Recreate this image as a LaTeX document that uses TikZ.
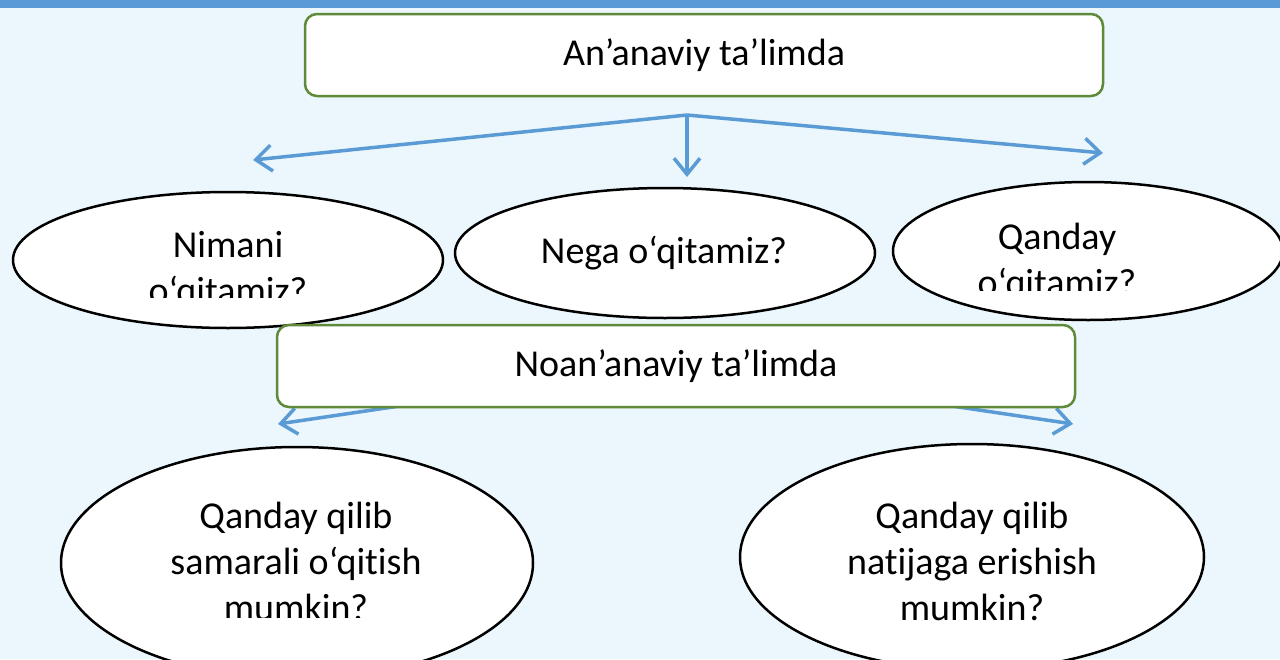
\documentclass[tikz,border=0pt]{standalone}
\usepackage{fontspec}
\setmainfont{Carlito}[Ligatures=NoCommon]
\usetikzlibrary{arrows.meta,shapes.geometric}
\definecolor{bgblue}{RGB}{235,247,252}
\definecolor{barblue}{RGB}{91,155,213}
\definecolor{boxgreen}{RGB}{94,138,58}
\begin{document}
\begin{tikzpicture}[x=1pt,y=-1pt,
  headbox/.style={draw=boxgreen, line width=2.5pt, rounded corners=12pt, fill=white,
    minimum width=798pt, minimum height=82pt, inner sep=0pt,
    font=\fontsize{38}{46}\selectfont},
  oval/.style={draw=black, line width=2.5pt, ellipse, fill=white, inner sep=0pt},
  lbl/.style={font=\fontsize{38}{46}\selectfont, align=center, inner sep=0pt, anchor=base},
  conn/.style={draw=barblue, line width=3.5pt, -{Straight Barb[length=16pt,width=26pt]}}]
\clip (0,0) rectangle (1280,659);
\fill[bgblue] (0,0) rectangle (1280,659);
\fill[barblue] (0,0) rectangle (1280,8);
% top connectors
\coordinate (s1) at (687,115);
\coordinate (t1) at (253,160);
\coordinate (t2) at (687,177);
\coordinate (t3) at (1103,153);
\draw[conn] (s1) -- (t1);
\draw[conn] (s1) -- (t2);
\draw[conn] (s1) -- (t3);
\node[headbox] (top) at (704,55) {An’anaviy ta’limda};
% top ellipses
\node[oval, minimum width=430pt, minimum height=136pt] (e1) at (228,260) {};
\node[oval, minimum width=420pt, minimum height=130pt] (e2) at (665,253) {};
\node[oval, minimum width=390pt, minimum height=138pt] (e3) at (1088,251) {};
\begin{scope}
\clip (0,0) rectangle (1280,297);
\node[lbl] (l1) at (228,303) {Nimani\\o‘qitamiz?};
\end{scope}
\node[lbl] (l2) at (664,263) {Nega o‘qitamiz?};
\begin{scope}
\clip (0,0) rectangle (1280,290);
\node[lbl] (l3) at (1057,295) {Qanday\\o‘qitamiz?};
\end{scope}
% bottom connectors
\coordinate (s2) at (676,365);
\coordinate (t4) at (278,424);
\coordinate (t5) at (1073,424);
\draw[conn] (s2) -- (t4);
\draw[conn] (s2) -- (t5);
\node[headbox] (mid) at (676,366) {Noan’anaviy ta’limda};
% bottom ellipses
\node[oval, minimum width=472pt, minimum height=232pt] (e4) at (297,563) {};
\node[oval, minimum width=464pt, minimum height=226pt] (e5) at (972,557) {};
\begin{scope}
\clip (0,0) rectangle (1280,617);
\node[lbl] (l4) at (296,620) {Qanday qilib\\samarali o‘qitish\\mumkin?};
\end{scope}
\node[lbl] (l5) at (972,620) {Qanday qilib\\natijaga erishish\\mumkin?};
\end{tikzpicture}
\end{document}
